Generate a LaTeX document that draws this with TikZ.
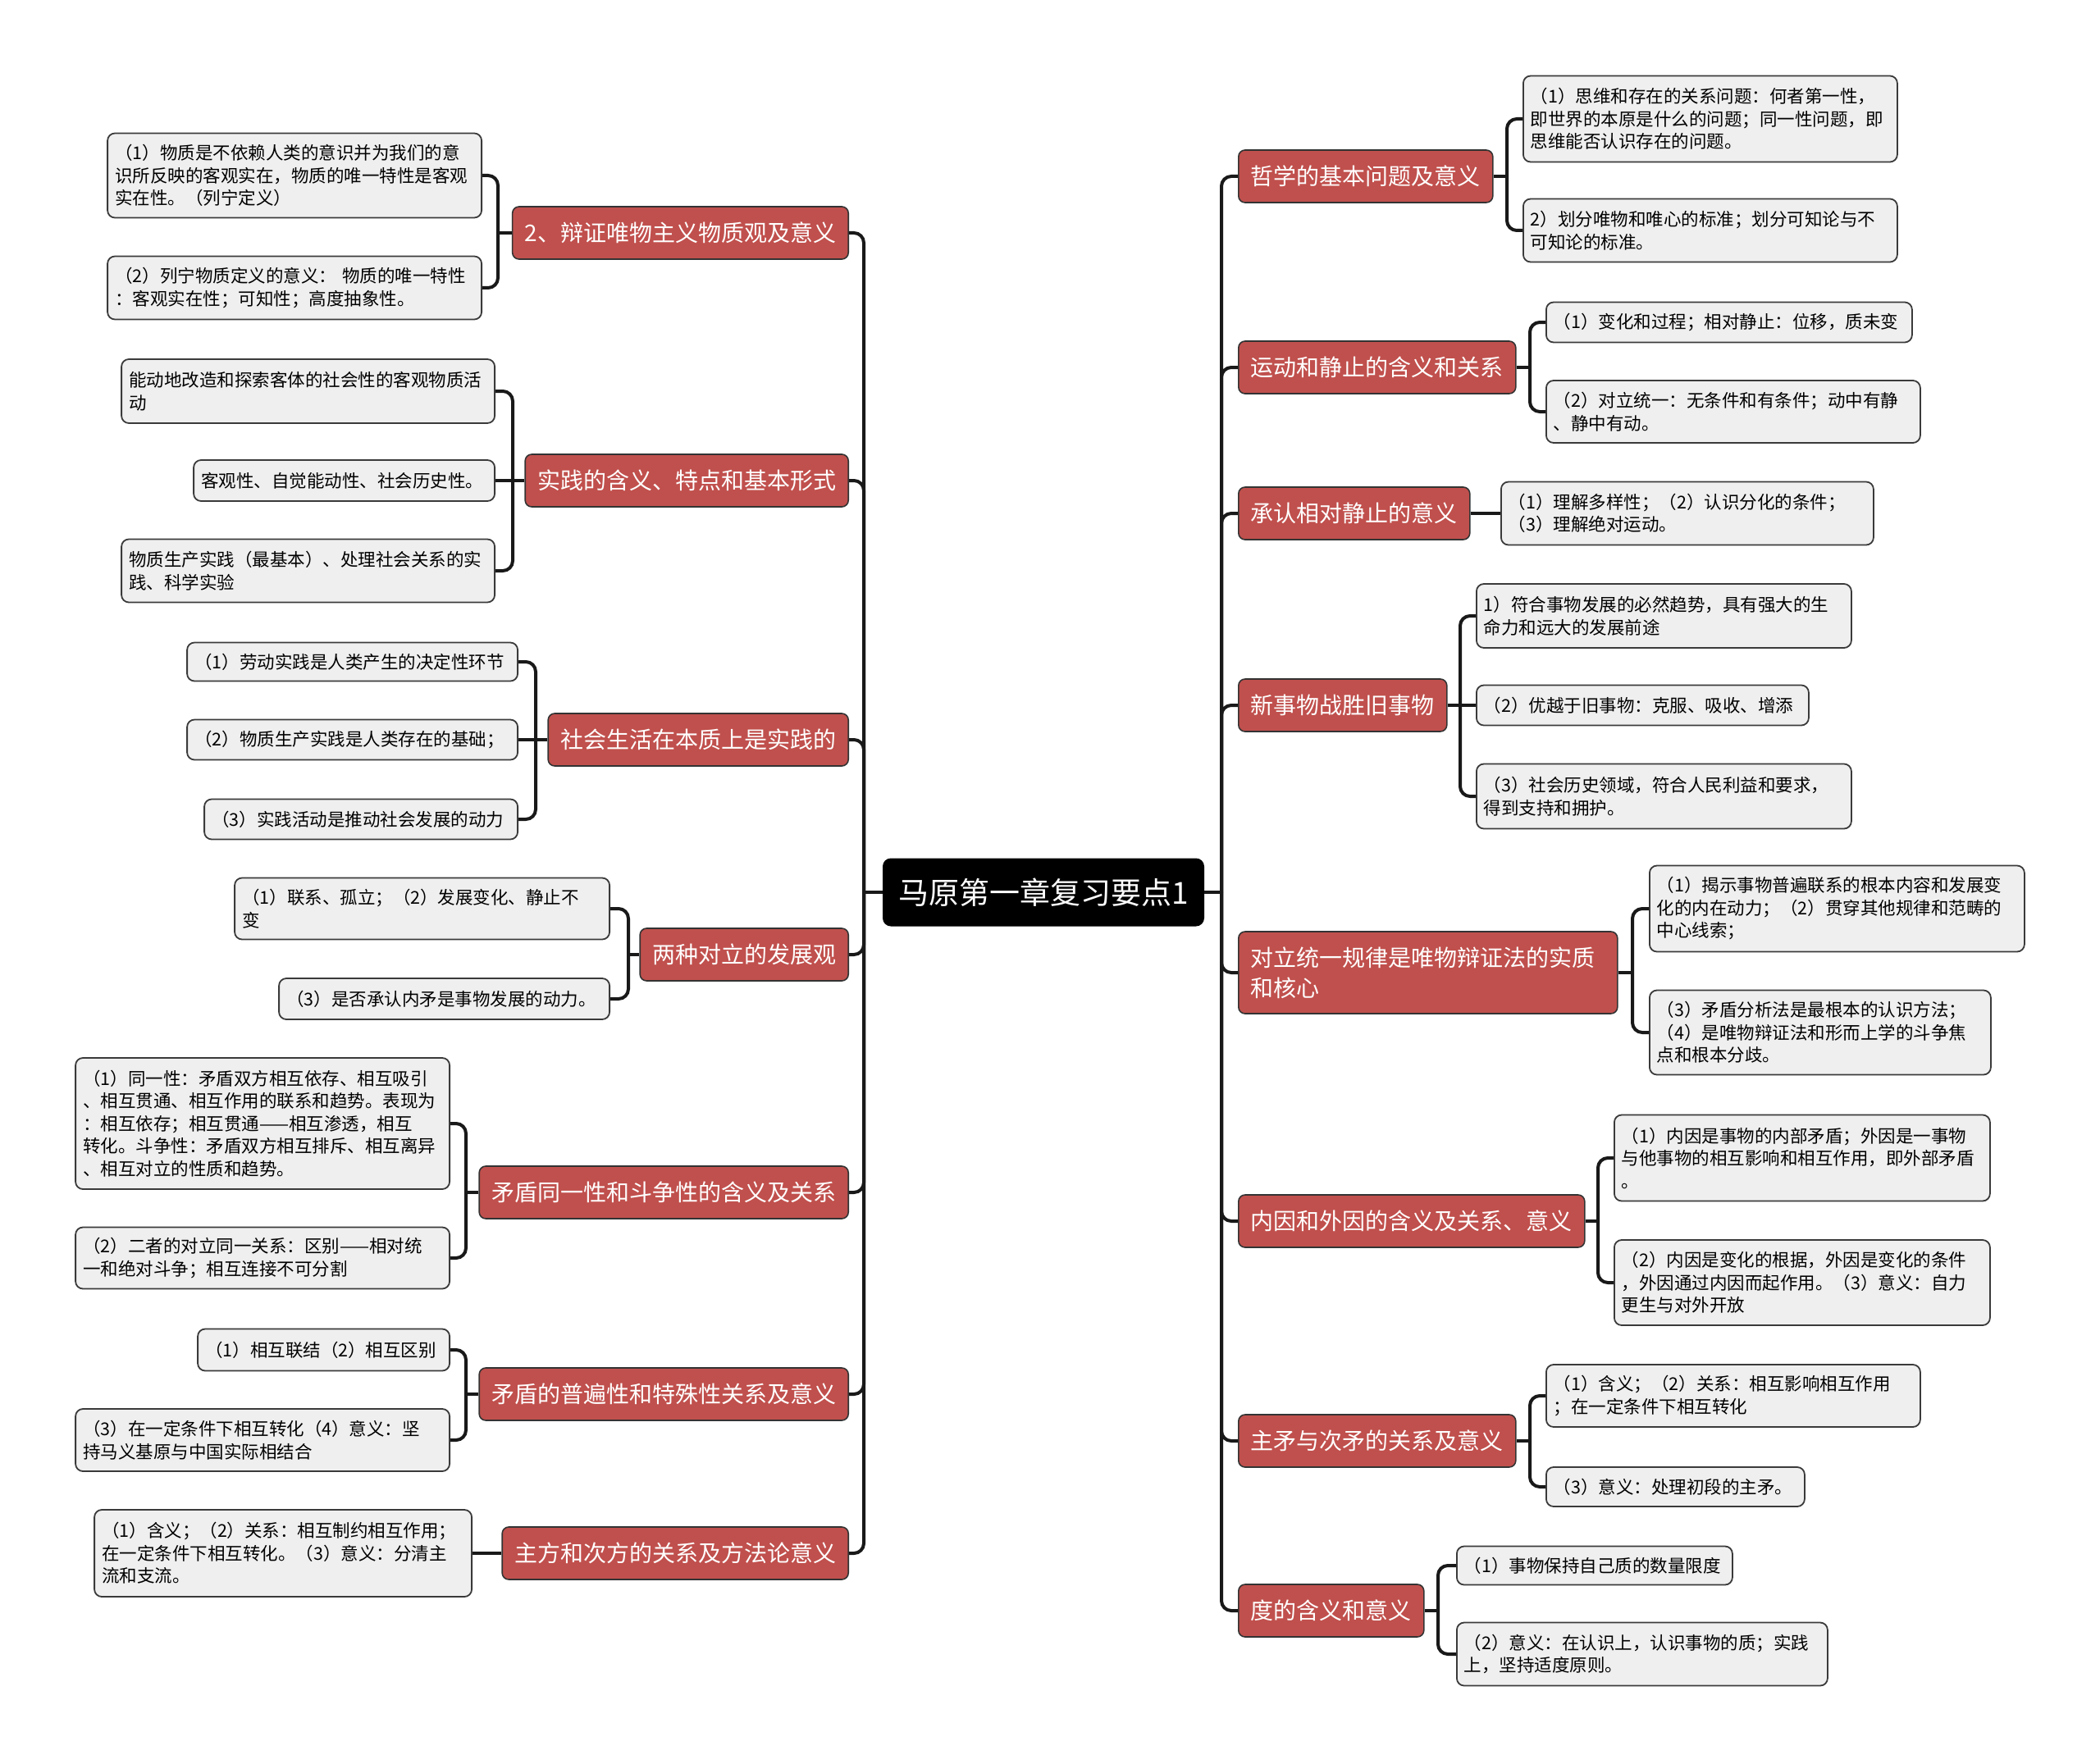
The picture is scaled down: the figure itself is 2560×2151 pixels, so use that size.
\documentclass[tikz,border=0pt]{standalone}
\usepackage{fontspec}
\usepackage{xcolor}
\newfontfamily\zhfont{Noto Sans CJK SC}
\definecolor{topicred}{HTML}{C0504D}
\definecolor{leafgray}{HTML}{EFEFEF}
\definecolor{edgegray}{HTML}{3A3A3A}
\tikzset{
  root/.style={fill=black, text=white, rounded corners=10pt, inner sep=0pt,
    minimum width=392pt, minimum height=83pt, font={\zhfont\fontsize{37}{44}\selectfont}},
  topic/.style={draw=black!80, line width=1.6pt, fill=topicred, text=white, rounded corners=8pt,
    inner xsep=15pt, minimum height=64pt, font={\zhfont\fontsize{28}{37}\selectfont}},
  leaf/.style n args={2}{draw=edgegray, line width=1.8pt, fill=leafgray, rounded corners=9pt,
    inner xsep=9pt, align=left, text width=#1, minimum height=#2,
    font={\zhfont\fontsize{21.5}{27.5}\selectfont}},
  conn/.style={line width=4pt, draw=black!90, rounded corners=12pt}
}

\begin{document}
\begin{tikzpicture}[x=1pt, y=-1pt]
\useasboundingbox (0,0) rectangle (2560,2151);

% centre
\node[root] (root) at (1272,1088) {马原第一章复习要点1};
\coordinate (jl) at (1053,1088);
\coordinate (jr) at (1489,1088);

% left topics
\node[topic, anchor=east] (matter) at (1035,284) {2、辩证唯物主义物质观及意义};
\node[topic, anchor=east] (practice) at (1035,586) {实践的含义、特点和基本形式};
\node[topic, anchor=east] (social) at (1035,902) {社会生活在本质上是实践的};
\node[topic, anchor=east] (twoviews) at (1035,1164) {两种对立的发展观};
\node[topic, anchor=east] (identity) at (1035,1454) {矛盾同一性和斗争性的含义及关系};
\node[topic, anchor=east] (universal) at (1035,1700) {矛盾的普遍性和特殊性关系及意义};
\node[topic, anchor=east] (mainside) at (1035,1894) {主方和次方的关系及方法论意义};

% left leaves
\node[leaf={438pt}{103pt}, anchor=east] (matter1) at (588,214) {（1）物质是不依赖人类的意识并为我们的意\\识所反映的客观实在，物质的唯一特性是客观\\实在性。（列宁定义）};
\node[leaf={438pt}{77pt}, anchor=east] (matter2) at (588,351) {（2）列宁物质定义的意义：~物质的唯一特性\\：客观实在性；可知性；高度抽象性。};
\node[leaf={437pt}{78pt}, anchor=east] (practice1) at (604,477) {能动地改造和探索客体的社会性的客观物质活\\动};
\node[leaf={349pt}{50pt}, anchor=east] (practice2) at (604,586) {客观性、自觉能动性、社会历史性。};
\node[leaf={437pt}{77pt}, anchor=east] (practice3) at (604,696) {物质生产实践（最基本）、处理社会关系的实\\践、科学实验};
\node[leaf={385pt}{47pt}, anchor=east] (social1) at (632,807) {（1）劳动实践是人类产生的决定性环节};
\node[leaf={385pt}{49pt}, anchor=east] (social2) at (632,902) {（2）物质生产实践是人类存在的基础；};
\node[leaf={364pt}{49pt}, anchor=east] (social3) at (632,999) {（3）实践活动是推动社会发展的动力};
\node[leaf={439pt}{75pt}, anchor=east] (twoviews1) at (744,1108) {（1）联系、孤立；（2）发展变化、静止不\\变};
\node[leaf={385pt}{50pt}, anchor=east] (twoviews2) at (744,1218) {（3）是否承认内矛是事物发展的动力。};
\node[leaf={438pt}{160pt}, anchor=east] (identity1) at (549,1370) {（1）同一性：矛盾双方相互依存、相互吸引\\、相互贯通、相互作用的联系和趋势。表现为\\：相互依存；相互贯通——相互渗透，相互\\转化。斗争性：矛盾双方相互排斥、相互离异\\、相互对立的性质和趋势。};
\node[leaf={438pt}{75pt}, anchor=east] (identity2) at (549,1534) {（2）二者的对立同一关系：区别——相对统\\一和绝对斗争；相互连接不可分割};
\node[leaf={289pt}{51pt}, anchor=east] (universal1) at (549,1646) {（1）相互联结（2）相互区别};
\node[leaf={438pt}{76pt}, anchor=east] (universal2) at (549,1756) {（3）在一定条件下相互转化（4）意义：坚\\持马义基原与中国实际相结合};
\node[leaf={442pt}{106pt}, anchor=east] (mainside1) at (576,1894) {（1）含义；（2）关系：相互制约相互作用；\\在一定条件下相互转化。（3）意义：分清主\\流和支流。};

% right topics
\node[topic, anchor=west] (basicq) at (1509,215) {哲学的基本问题及意义};
\node[topic, anchor=west] (motion) at (1509,448) {运动和静止的含义和关系};
\node[topic, anchor=west] (rest) at (1509,626) {承认相对静止的意义};
\node[topic, anchor=west] (newthing) at (1509,860) {新事物战胜旧事物};
\node[topic, anchor=west, align=left, text width=432pt, minimum height=100pt] (unity) at (1509,1186) {对立统一规律是唯物辩证法的实质\\和核心};
\node[topic, anchor=west] (cause) at (1509,1489) {内因和外因的含义及关系、意义};
\node[topic, anchor=west] (mainctr) at (1509,1757) {主矛与次矛的关系及意义};
\node[topic, anchor=west] (degree) at (1509,1964) {度的含义和意义};

% right leaves
\node[leaf={438pt}{105pt}, anchor=west] (basicq1) at (1856,145) {（1）思维和存在的关系问题：何者第一性，\\即世界的本原是什么的问题；同一性问题，即\\思维能否认识存在的问题。};
\node[leaf={438pt}{77pt}, anchor=west] (basicq2) at (1856,281) {2）划分唯物和唯心的标准；划分可知论与不\\可知论的标准。};
\node[leaf={428pt}{49pt}, anchor=west] (motion1) at (1884,393) {（1）变化和过程；相对静止：位移，质未变};
\node[leaf={438pt}{76pt}, anchor=west] (motion2) at (1884,502) {（2）对立统一：无条件和有条件；动中有静\\、静中有动。};
\node[leaf={436pt}{77pt}, anchor=west] (rest1) at (1829,626) {（1）理解多样性；（2）认识分化的条件；\\（3）理解绝对运动。};
\node[leaf={439pt}{78pt}, anchor=west] (newthing1) at (1799,751) {1）符合事物发展的必然趋势，具有强大的生\\命力和远大的发展前途};
\node[leaf={387pt}{49pt}, anchor=west] (newthing2) at (1799,860) {（2）优越于旧事物：克服、吸收、增添};
\node[leaf={439pt}{79pt}, anchor=west] (newthing3) at (1799,971) {（3）社会历史领域，符合人民利益和要求，\\得到支持和拥护。};
\node[leaf={439pt}{105pt}, anchor=west] (unity1) at (2010,1108) {（1）揭示事物普遍联系的根本内容和发展变\\化的内在动力；（2）贯穿其他规律和范畴的\\中心线索；};
\node[leaf={398pt}{103pt}, anchor=west] (unity2) at (2010,1259) {（3）矛盾分析法是最根本的认识方法；\\（4）是唯物辩证法和形而上学的斗争焦\\点和根本分歧。};
\node[leaf={440pt}{105pt}, anchor=west] (cause1) at (1967,1412) {（1）内因是事物的内部矛盾；外因是一事物\\与他事物的相互影响和相互作用，即外部矛盾\\。};
\node[leaf={440pt}{104pt}, anchor=west] (cause2) at (1967,1564) {（2）内因是变化的根据，外因是变化的条件\\，外因通过内因而起作用。（3）意义：自力\\更生与对外开放};
\node[leaf={438pt}{76pt}, anchor=west] (mainctr1) at (1884,1702) {（1）含义；（2）关系：相互影响相互作用\\；在一定条件下相互转化};
\node[leaf={297pt}{48pt}, anchor=west] (mainctr2) at (1884,1813) {（3）意义：处理初段的主矛。};
\node[leaf={318pt}{47pt}, anchor=west] (degree1) at (1775,1909) {（1）事物保持自己质的数量限度};
\node[leaf={434pt}{77pt}, anchor=west] (degree2) at (1775,2017) {（2）意义：在认识上，认识事物的质；实践\\上，坚持适度原则。};

% sub junctions
\coordinate (matterj) at (607,284);
\coordinate (practicej) at (625,586);
\coordinate (socialj) at (653,902);
\coordinate (twoviewsj) at (766,1164);
\coordinate (identityj) at (568,1454);
\coordinate (universalj) at (568,1700);
\coordinate (basicqj) at (1837,215);
\coordinate (motionj) at (1865,448);
\coordinate (newthingj) at (1780,860);
\coordinate (unityj) at (1990,1186);
\coordinate (causej) at (1948,1489);
\coordinate (mainctrj) at (1865,1757);
\coordinate (degreej) at (1753,1964);

% trunk, left
\draw[conn] (root.west) -- (jl);
\draw[conn] (jl) |- (matter.east);
\draw[conn] (jl) |- (practice.east);
\draw[conn] (jl) |- (social.east);
\draw[conn] (jl) |- (twoviews.east);
\draw[conn] (jl) |- (identity.east);
\draw[conn] (jl) |- (universal.east);
\draw[conn] (jl) |- (mainside.east);
% trunk, right
\draw[conn] (root.east) -- (jr);
\draw[conn] (jr) |- (basicq.west);
\draw[conn] (jr) |- (motion.west);
\draw[conn] (jr) |- (rest.west);
\draw[conn] (jr) |- (newthing.west);
\draw[conn] (jr) |- (unity.west);
\draw[conn] (jr) |- (cause.west);
\draw[conn] (jr) |- (mainctr.west);
\draw[conn] (jr) |- (degree.west);

% left leaves
\draw[conn] (matter.west) -- (matterj);
\draw[conn] (matterj) |- (matter1.east);
\draw[conn] (matterj) |- (matter2.east);
\draw[conn] (practice.west) -- (practice2.east);
\draw[conn] (practicej) |- (practice1.east);
\draw[conn] (practicej) |- (practice3.east);
\draw[conn] (social.west) -- (social2.east);
\draw[conn] (socialj) |- (social1.east);
\draw[conn] (socialj) |- (social3.east);
\draw[conn] (twoviews.west) -- (twoviewsj);
\draw[conn] (twoviewsj) |- (twoviews1.east);
\draw[conn] (twoviewsj) |- (twoviews2.east);
\draw[conn] (identity.west) -- (identityj);
\draw[conn] (identityj) |- (identity1.east);
\draw[conn] (identityj) |- (identity2.east);
\draw[conn] (universal.west) -- (universalj);
\draw[conn] (universalj) |- (universal1.east);
\draw[conn] (universalj) |- (universal2.east);
\draw[conn] (mainside.west) -- (mainside1.east);

% right leaves
\draw[conn] (basicq.east) -- (basicqj);
\draw[conn] (basicqj) |- (basicq1.west);
\draw[conn] (basicqj) |- (basicq2.west);
\draw[conn] (motion.east) -- (motionj);
\draw[conn] (motionj) |- (motion1.west);
\draw[conn] (motionj) |- (motion2.west);
\draw[conn] (rest.east) -- (rest1.west);
\draw[conn] (newthing.east) -- (newthing2.west);
\draw[conn] (newthingj) |- (newthing1.west);
\draw[conn] (newthingj) |- (newthing3.west);
\draw[conn] (unity.east) -- (unityj);
\draw[conn] (unityj) |- (unity1.west);
\draw[conn] (unityj) |- (unity2.west);
\draw[conn] (cause.east) -- (causej);
\draw[conn] (causej) |- (cause1.west);
\draw[conn] (causej) |- (cause2.west);
\draw[conn] (mainctr.east) -- (mainctrj);
\draw[conn] (mainctrj) |- (mainctr1.west);
\draw[conn] (mainctrj) |- (mainctr2.west);
\draw[conn] (degree.east) -- (degreej);
\draw[conn] (degreej) |- (degree1.west);
\draw[conn] (degreej) |- (degree2.west);
\end{tikzpicture}
\end{document}
